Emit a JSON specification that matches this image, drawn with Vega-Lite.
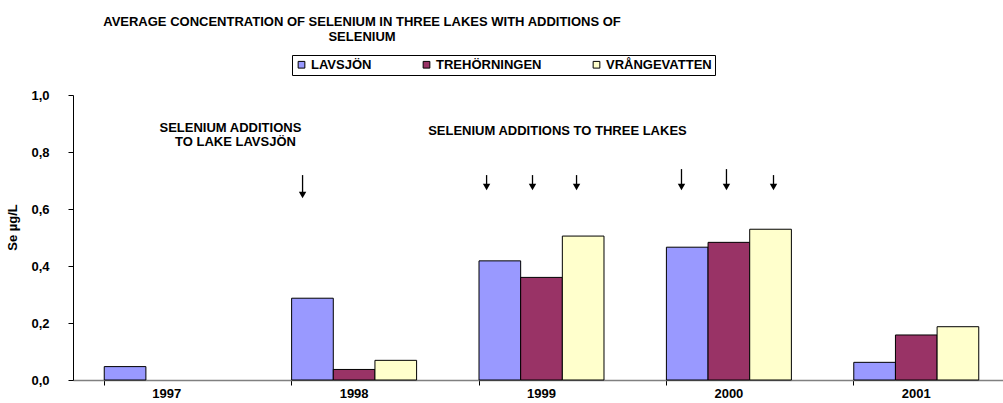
{
  "$schema": "https://vega.github.io/schema/vega-lite/v6.json",
  "width": 930,
  "height": 285,
  "autosize": "none",
  "padding": {"left": 73, "top": 95, "right": 0, "bottom": 23},
  "background": "white",
  "config": {
    "font": "Liberation Sans",
    "view": {"stroke": null},
    "legend": {
      "orient": "none",
      "legendX": 219,
      "legendY": -40,
      "direction": "horizontal",
      "strokeColor": "black",
      "fillColor": "white",
      "padding": 3,
      "columnPadding": 48,
      "labelFontSize": 13,
      "labelFontWeight": "bold",
      "labelColor": "black",
      "labelOffset": 3,
      "symbolType": "square",
      "symbolSize": 45,
      "symbolStrokeColor": "black",
      "symbolStrokeWidth": 1
    }
  },
  "title": {
    "text": ["AVERAGE CONCENTRATION OF SELENIUM IN THREE LAKES WITH ADDITIONS OF", "SELENIUM"],
    "fontSize": 13,
    "fontWeight": "bold",
    "color": "black",
    "anchor": "middle",
    "dx": -176,
    "lineHeight": 15,
    "offset": 11
  },
  "layer": [
    {
      "data": {
        "values": [
          {"year": "1997", "lake": "LAVSJÖN", "value": 0.047},
          {"year": "1998", "lake": "LAVSJÖN", "value": 0.287},
          {"year": "1998", "lake": "TREHÖRNINGEN", "value": 0.037},
          {"year": "1998", "lake": "VRÅNGEVATTEN", "value": 0.069},
          {"year": "1999", "lake": "LAVSJÖN", "value": 0.418},
          {"year": "1999", "lake": "TREHÖRNINGEN", "value": 0.36},
          {"year": "1999", "lake": "VRÅNGEVATTEN", "value": 0.505},
          {"year": "2000", "lake": "LAVSJÖN", "value": 0.466},
          {"year": "2000", "lake": "TREHÖRNINGEN", "value": 0.483},
          {"year": "2000", "lake": "VRÅNGEVATTEN", "value": 0.529},
          {"year": "2001", "lake": "LAVSJÖN", "value": 0.062},
          {"year": "2001", "lake": "TREHÖRNINGEN", "value": 0.158},
          {"year": "2001", "lake": "VRÅNGEVATTEN", "value": 0.187}
        ]
      },
      "mark": {"type": "bar", "stroke": "black", "strokeWidth": 1},
      "encoding": {
        "x": {
          "field": "year",
          "type": "nominal",
          "scale": {"range": [0, 937], "paddingInner": 0.333, "paddingOuter": 0.1667},
          "axis": {
            "title": null,
            "labelAngle": 0,
            "labelFontSize": 13,
            "labelFontWeight": "bold",
            "labelColor": "black",
            "labelPadding": 2,
            "labelDx": -7,
            "bandPosition": 0,
            "tickSize": 5,
            "tickColor": "black",
            "domainColor": "#808080",
            "domainWidth": 1.5
          }
        },
        "xOffset": {"field": "lake", "sort": ["LAVSJÖN", "TREHÖRNINGEN", "VRÅNGEVATTEN"]},
        "y": {
          "field": "value",
          "type": "quantitative",
          "scale": {"domain": [0, 1]},
          "axis": {
            "title": "Se µg/L",
            "titleFontSize": 13,
            "titleFontWeight": "bold",
            "titleColor": "black",
            "titleX": -54,
            "titleY": 132,
            "values": [0, 0.2, 0.4, 0.6, 0.8, 1],
            "labelExpr": "replace(format(datum.value, '.1f'), '.', ',')",
            "labelFontSize": 13,
            "labelFontWeight": "bold",
            "labelColor": "black",
            "labelPadding": 19,
            "tickSize": 5,
            "tickColor": "black",
            "domainColor": "black",
            "grid": false
          }
        },
        "color": {
          "field": "lake",
          "type": "nominal",
          "scale": {"domain": ["LAVSJÖN", "TREHÖRNINGEN", "VRÅNGEVATTEN"], "range": ["#9999FF", "#993366", "#FFFFCC"]},
          "legend": {"title": null}
        }
      }
    },
    {
      "data": {
        "values": [
          {"pos": 1997.34, "value": 0.884, "text": "SELENIUM ADDITIONS"},
          {"pos": 1997.367, "value": 0.835, "text": "TO LAKE LAVSJÖN"},
          {"pos": 1999.085, "value": 0.874, "text": "SELENIUM ADDITIONS TO THREE LAKES"}
        ]
      },
      "mark": {"type": "text", "fontSize": 13, "fontWeight": "bold", "color": "black", "align": "center", "baseline": "middle"},
      "encoding": {
        "x": {"field": "pos", "type": "quantitative", "scale": {"domain": [1996.5, 2001.5], "range": [0, 937], "zero": false, "nice": false}, "axis": null},
        "y": {"field": "value", "type": "quantitative", "scale": {"domain": [0, 1]}},
        "text": {"field": "text"}
      }
    },
    {
      "data": {
        "values": [
          {"pos": 1997.725, "value": 0.719, "head": 0.649},
          {"pos": 1998.707, "value": 0.719, "head": 0.677},
          {"pos": 1998.952, "value": 0.719, "head": 0.677},
          {"pos": 1999.187, "value": 0.719, "head": 0.677},
          {"pos": 1999.747, "value": 0.740, "head": 0.677},
          {"pos": 1999.987, "value": 0.740, "head": 0.677},
          {"pos": 2000.238, "value": 0.719, "head": 0.677}
        ]
      },
      "layer": [
        {
          "mark": {"type": "rule", "color": "black", "strokeWidth": 1.3},
          "encoding": {
            "x": {"field": "pos", "type": "quantitative", "scale": {"domain": [1996.5, 2001.5], "range": [0, 937], "zero": false, "nice": false}, "axis": null},
            "y": {"field": "value", "type": "quantitative", "scale": {"domain": [0, 1]}},
            "y2": {"field": "head"}
          }
        },
        {
          "mark": {"type": "point", "shape": "triangle-down", "filled": true, "color": "black", "size": 55, "opacity": 1},
          "encoding": {
            "x": {"field": "pos", "type": "quantitative", "scale": {"domain": [1996.5, 2001.5], "range": [0, 937], "zero": false, "nice": false}, "axis": null},
            "y": {"field": "head", "type": "quantitative", "scale": {"domain": [0, 1]}}
          }
        }
      ]
    }
  ],
  "resolve": {"scale": {"x": "independent"}, "axis": {"x": "independent"}}
}
